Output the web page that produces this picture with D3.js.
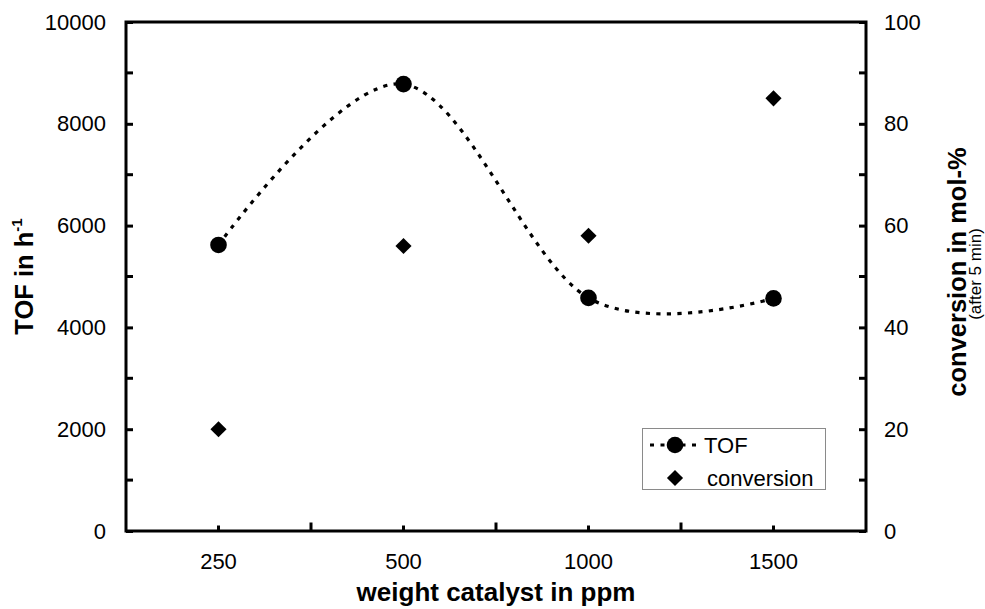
<!DOCTYPE html>
<html>
<head>
<meta charset="utf-8">
<script src="https://cdn.jsdelivr.net/npm/d3@7"></script>
<style>
  html, body { margin: 0; padding: 0; background: #fff; }
  svg { display: block; font-family: "Liberation Sans", Arial, Helvetica, sans-serif; }
</style>
</head>
<body>
<svg id="chart" width="985" height="609"></svg>
<script>
// ---- data ----
const categories = ["250", "500", "1000", "1500"];
const tofValues = [5620, 8780, 4580, 4570];
const conversionValues = [20, 56, 58, 85];
const leftTicks = [0, 2000, 4000, 6000, 8000, 10000];
const rightTicks = [0, 20, 40, 60, 80, 100];
const leftMinorTicks = [1000, 3000, 5000, 7000, 9000];
const rightMinorTicks = [10, 30, 50, 70, 90];

// ---- layout ----
const svg = d3.select("#chart");
const plot = { left: 126, right: 866, top: 22, bottom: 531 };

const x = d3.scaleBand().domain(categories).range([plot.left, plot.right]).padding(0);
const yL = d3.scaleLinear().domain([0, 10000]).range([plot.bottom, plot.top]);
const yR = d3.scaleLinear().domain([0, 100]).range([plot.bottom, plot.top]);
const cx = c => x(c) + x.bandwidth() / 2;

const tickFont = 22;

// left axis
const gL = svg.append("g").attr("transform", `translate(${plot.left},0)`)
  .call(d3.axisLeft(yL).tickValues(leftTicks).tickSize(-7).tickPadding(20).tickFormat(d3.format("d")));
gL.selectAll(".tick line").attr("stroke-width", 3);
gL.append("g").selectAll("line").data(leftMinorTicks).join("line")
  .attr("x1", 0).attr("x2", 7).attr("y1", d => yL(d)).attr("y2", d => yL(d))
  .attr("stroke", "#000").attr("stroke-width", 3);

// right axis
const gR = svg.append("g").attr("transform", `translate(${plot.right},0)`)
  .call(d3.axisRight(yR).tickValues(rightTicks).tickSize(-7).tickPadding(18).tickFormat(d3.format("d")));
gR.selectAll(".tick line").attr("stroke-width", 3);
gR.append("g").selectAll("line").data(rightMinorTicks).join("line")
  .attr("x1", 0).attr("x2", -7).attr("y1", d => yR(d)).attr("y2", d => yR(d))
  .attr("stroke", "#000").attr("stroke-width", 3);

// bottom axis
const gB = svg.append("g").attr("transform", `translate(0,${plot.bottom})`)
  .call(d3.axisBottom(x).tickSize(-5.5).tickPadding(22));
gB.selectAll(".tick line").attr("stroke-width", 3);
gB.append("g").selectAll("line").data(categories.slice(1)).join("line")
  .attr("x1", d => x(d)).attr("x2", d => x(d)).attr("y1", 0).attr("y2", -8.5)
  .attr("stroke", "#000").attr("stroke-width", 3);

[gL, gR, gB].forEach(g => {
  g.select(".domain").remove();
  g.selectAll("text").attr("font-size", tickFont).attr("font-family", "Liberation Sans, Arial, sans-serif").attr("fill", "#000");
});

// frame
svg.append("rect")
  .attr("x", plot.left).attr("y", plot.top)
  .attr("width", plot.right - plot.left).attr("height", plot.bottom - plot.top)
  .attr("fill", "none").attr("stroke", "#000").attr("stroke-width", 3);

// TOF smoothed dotted line
const tofData = categories.map((c, i) => ({ c, v: tofValues[i] }));
const line = d3.line().x(d => cx(d.c)).y(d => yL(d.v)).curve(d3.curveCatmullRom.alpha(0));
svg.append("path").datum(tofData).attr("d", line)
  .attr("fill", "none").attr("stroke", "#000").attr("stroke-width", 3.2)
  .attr("stroke-dasharray", "4.2,6.3");

svg.append("g").selectAll("circle").data(tofData).join("circle")
  .attr("cx", d => cx(d.c)).attr("cy", d => yL(d.v)).attr("r", 8.3).attr("fill", "#000");

// conversion diamonds
const convData = categories.map((c, i) => ({ c, v: conversionValues[i] }));
const diamond = d3.symbol().type(d3.symbolSquare).size(130);
svg.append("g").selectAll("path").data(convData).join("path")
  .attr("d", diamond)
  .attr("transform", d => `translate(${cx(d.c)},${yR(d.v)}) rotate(45)`)
  .attr("fill", "#000");

// axis titles
svg.append("text")
  .attr("transform", `translate(${(plot.left + plot.right) / 2},601)`)
  .attr("text-anchor", "middle").attr("font-size", 26).attr("font-weight", "bold")
  .text("weight catalyst in ppm");

const tL = svg.append("text")
  .attr("transform", `translate(33,${(plot.top + plot.bottom) / 2}) rotate(-90)`)
  .attr("text-anchor", "middle").attr("font-size", 25.5).attr("font-weight", "bold");
tL.append("tspan").text("TOF in h");
tL.append("tspan").attr("font-size", 15).attr("dy", "-0.75em").text("-1");

svg.append("text")
  .attr("transform", `translate(966,272) rotate(-90)`)
  .attr("text-anchor", "middle").attr("font-size", 25.5).attr("font-weight", "bold")
  .text("conversion in mol-%");
svg.append("text")
  .attr("transform", `translate(980.5,274) rotate(-90)`)
  .attr("text-anchor", "middle").attr("font-size", 17)
  .text("(after 5 min)");

// legend
const lg = svg.append("g");
lg.append("rect").attr("x", 642.5).attr("y", 428.5).attr("width", 183).attr("height", 61)
  .attr("fill", "#fff").attr("stroke", "#8a8a8a").attr("stroke-width", 1);
lg.append("line").attr("x1", 650).attr("x2", 700).attr("y1", 445).attr("y2", 445)
  .attr("stroke", "#000").attr("stroke-width", 3).attr("stroke-dasharray", "4,6.5");
lg.append("circle").attr("cx", 675).attr("cy", 445).attr("r", 8.3).attr("fill", "#000");
lg.append("text").attr("x", 704).attr("y", 453).attr("font-size", 22).text("TOF");
lg.append("path").attr("d", diamond).attr("transform", "translate(675,478) rotate(45)").attr("fill", "#000");
lg.append("text").attr("x", 707).attr("y", 486).attr("font-size", 22).text("conversion");
</script>
</body>
</html>
